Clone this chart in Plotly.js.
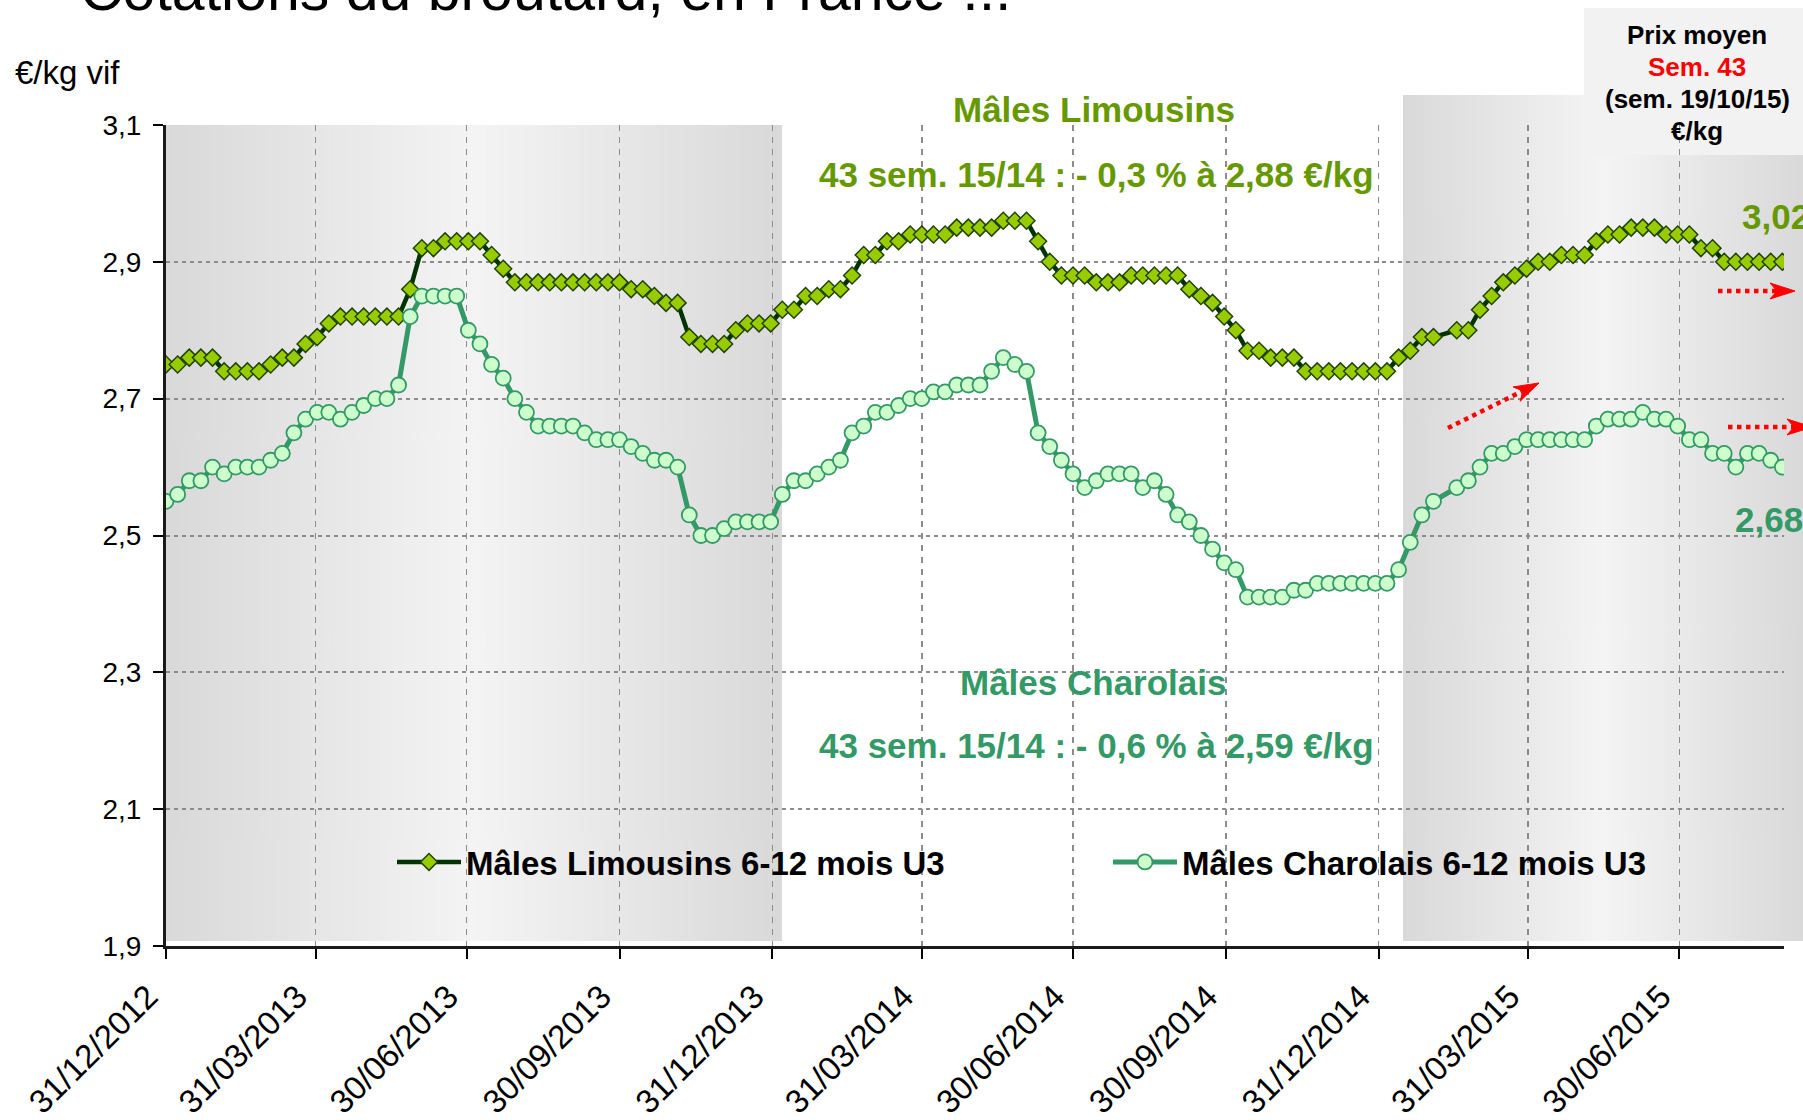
<!DOCTYPE html>
<html>
<head>
<meta charset="utf-8">
<script src="https://cdn.plot.ly/plotly-3.0.1.min.js"></script>
<style>
html,body{margin:0;padding:0;background:#ffffff;}
#chart{width:1803px;height:1120px;}
</style>
</head>
<body>
<div id="chart"></div>
<script>
// ---------------- DATA ----------------
// weekly quotations, first week = 31/12/2012 (null = week not published)
const firstWeek = '2012-12-31';

const limousins = [
  2.75,2.75,2.76,2.76,2.76,2.74,2.74,2.74,2.74,2.75,
  2.76,2.76,2.78,2.79,2.81,2.82,2.82,2.82,2.82,2.82,
  2.82,2.86,2.92,2.92,2.93,2.93,2.93,2.93,2.91,2.89,
  2.87,2.87,2.87,2.87,2.87,2.87,2.87,2.87,2.87,2.87,
  2.86,2.86,2.85,2.84,2.84,2.79,2.78,2.78,2.78,2.80,
  2.81,2.81,2.81,2.83,2.83,2.85,2.85,2.86,2.86,2.88,
  2.91,2.91,2.93,2.93,2.94,2.94,2.94,2.94,2.95,2.95,
  2.95,2.95,2.96,2.96,2.96,2.93,2.90,2.88,2.88,2.88,
  2.87,2.87,2.87,2.88,2.88,2.88,2.88,2.88,2.86,2.85,
  2.84,2.82,2.80,2.77,2.77,2.76,2.76,2.76,2.74,2.74,
  2.74,2.74,2.74,2.74,2.74,2.74,2.76,2.77,2.79,2.79,
  null,2.80,2.80,2.83,2.85,2.87,2.88,2.89,2.90,2.90,
  2.91,2.91,2.91,2.93,2.94,2.94,2.95,2.95,2.95,2.94,
  2.94,2.94,2.92,2.92,2.90,2.90,2.90,2.90,2.90,2.90
];

const charolais = [
  2.55,2.56,2.58,2.58,2.60,2.59,2.60,2.60,2.60,2.61,
  2.62,2.65,2.67,2.68,2.68,2.67,2.68,2.69,2.70,2.70,
  2.72,2.82,2.85,2.85,2.85,2.85,2.80,2.78,2.75,2.73,
  2.70,2.68,2.66,2.66,2.66,2.66,2.65,2.64,2.64,2.64,
  2.63,2.62,2.61,2.61,2.60,2.53,2.50,2.50,2.51,2.52,
  2.52,2.52,2.52,2.56,2.58,2.58,2.59,2.60,2.61,2.65,
  2.66,2.68,2.68,2.69,2.70,2.70,2.71,2.71,2.72,2.72,
  2.72,2.74,2.76,2.75,2.74,2.65,2.63,2.61,2.59,2.57,
  2.58,2.59,2.59,2.59,2.57,2.58,2.56,2.53,2.52,2.50,
  2.48,2.46,2.45,2.41,2.41,2.41,2.41,2.42,2.42,2.43,
  2.43,2.43,2.43,2.43,2.43,2.43,2.45,2.49,2.53,2.55,
  null,2.57,2.58,2.60,2.62,2.62,2.63,2.64,2.64,2.64,
  2.64,2.64,2.64,2.66,2.67,2.67,2.67,2.68,2.67,2.67,
  2.66,2.64,2.64,2.62,2.62,2.60,2.62,2.62,2.61,2.60
];

const seriesNames = ['Mâles Limousins 6-12 mois U3', 'Mâles Charolais 6-12 mois U3'];

const tickLabels = ['31/12/2012','31/03/2013','30/06/2013','30/09/2013','31/12/2013',
                    '31/03/2014','30/06/2014','30/09/2014','31/12/2014','31/03/2015','30/06/2015'];

const yTicks = [1.9, 2.1, 2.3, 2.5, 2.7, 2.9, 3.1];

// ---------------- HELPERS ----------------
function weekDates(start, n){
  const out = [];
  const d0 = new Date(start + 'T00:00:00Z').getTime();
  for (let i = 0; i < n; i++) out.push(new Date(d0 + i*7*86400000).toISOString().slice(0,10));
  return out;
}
const dates = weekDates(firstWeek, limousins.length);
const tickVals = tickLabels.map(s => { const p = s.split('/'); return p[2] + '-' + p[1] + '-' + p[0]; });

// pixel -> paper conversion (plot area 166..1784 x 125..946)
const PL = 166, PR = 1784, PT = 125, PB = 946;
const px = x => (x - PL) / (PR - PL);
const py = y => (PB - y) / (PB - PT);

function gradientURL(){
  const c = document.createElement('canvas');
  c.width = 400; c.height = 4;
  const g = c.getContext('2d');
  const lg = g.createLinearGradient(0, 0, 400, 0);
  lg.addColorStop(0, '#d9d9d9');
  lg.addColorStop(0.5, '#f4f4f4');
  lg.addColorStop(1, '#d9d9d9');
  g.fillStyle = lg; g.fillRect(0, 0, 400, 4);
  return c.toDataURL('image/png');
}
const grad = gradientURL();

function arrow(x0, y0, x1, y1){
  const dx = x1 - x0, dy = y1 - y0, len = Math.hypot(dx, dy);
  const ux = dx/len, uy = dy/len, nx = -uy, ny = ux;
  const hl = 25, hw = 8, notch = 7;
  const bx = x1 - ux*hl, by = y1 - uy*hl;
  const lineEnd = [x1 - ux*(hl-notch), y1 - uy*(hl-notch)];
  const pts = [[x1,y1],[bx+nx*hw, by+ny*hw],[x1-ux*(hl-notch), y1-uy*(hl-notch)],[bx-nx*hw, by-ny*hw]];
  const path = 'M' + pts.map(p => px(p[0]).toFixed(5) + ',' + py(p[1]).toFixed(5)).join('L') + 'Z';
  return [
    {type:'line', xref:'paper', yref:'paper', x0:px(x0), y0:py(y0), x1:px(lineEnd[0]), y1:py(lineEnd[1]),
     line:{color:'#ff0000', width:4.5, dash:'dot'}, layer:'above'},
    {type:'path', xref:'paper', yref:'paper', path:path, fillcolor:'#ff0000', line:{color:'#ff0000', width:1}, layer:'above'}
  ];
}

const FONT = 'Liberation Sans, Arial, Helvetica, sans-serif';
const GREEN_L = '#669900';
const GREEN_C = '#339966';

// ---------------- TRACES ----------------
const traces = [
  {
    type:'scatter', mode:'lines+markers', name:seriesNames[0], legend:'legend',
    x:dates, y:limousins, connectgaps:true,
    line:{color:'#003300', width:4.5},
    marker:{symbol:'diamond', size:13, color:'#99cc00', line:{color:'#1f4400', width:1.5}}
  },
  {
    type:'scatter', mode:'lines+markers', name:seriesNames[1], legend:'legend2',
    x:dates, y:charolais, connectgaps:true,
    line:{color:GREEN_C, width:5},
    marker:{symbol:'circle', size:15, color:'#ccffcc', line:{color:GREEN_C, width:1.8}}
  }
];

// ---------------- LAYOUT ----------------
const ann = (text, x, y, size, color, opts) => Object.assign({
  text:text, xref:'paper', yref:'paper', x:px(x), y:py(y), xanchor:'center', yanchor:'middle',
  showarrow:false, font:{family:FONT, size:size, color:color, weight:'bold'}
}, opts || {});

const legendBase = {
  orientation:'h', xanchor:'left', y:py(862), yanchor:'middle',
  bgcolor:'rgba(0,0,0,0)', borderwidth:0,
  font:{family:FONT, size:33, color:'#000000', weight:'bold'},
  itemwidth:64
};

const layout = {
  width:1803, height:1120,
  margin:{l:PL, r:1803-PR, t:PT, b:1120-PB, pad:0},
  paper_bgcolor:'#ffffff', plot_bgcolor:'#ffffff',
  separators:', ',
  showlegend:true,
  font:{family:FONT, color:'#000000'},
  xaxis:{
    type:'date', range:[firstWeek, '2015-09-01'],
    tickvals:tickVals, ticktext:tickLabels, tickangle:-45,
    tickfont:{family:FONT, size:33, color:'#000000'},
    ticks:'outside', ticklen:10, tickwidth:2, tickcolor:'#000000',
    ticklabelshift:-18, ticklabelstandoff:5,
    showline:true, linecolor:'#1a1a1a', linewidth:3,
    showgrid:true, gridcolor:'#8c8c8c', gridwidth:1.6, griddash:'6px,6px',
    zeroline:false
  },
  yaxis:{
    range:[1.9, 3.1], tickvals:yTicks, tickformat:'.1f',
    tickfont:{family:FONT, size:28, color:'#000000'},
    ticks:'outside', ticklen:10, tickwidth:2, tickcolor:'#000000', ticklabelstandoff:6,
    showline:true, linecolor:'#1a1a1a', linewidth:3,
    showgrid:true, gridcolor:'#8c8c8c', gridwidth:2, griddash:'4px,4px',
    zeroline:false
  },
  legend:Object.assign({}, legendBase, {x:px(392)}),
  legend2:Object.assign({}, legendBase, {x:px(1108)}),
  images:[
    {source:grad, xref:'paper', yref:'paper', x:px(166), y:py(125), sizex:px(782)-px(166), sizey:py(125)-py(941),
     xanchor:'left', yanchor:'top', sizing:'stretch', layer:'below'},
    {source:grad, xref:'paper', yref:'paper', x:px(1403), y:py(95), sizex:px(1803)-px(1403), sizey:py(95)-py(941),
     xanchor:'left', yanchor:'top', sizing:'stretch', layer:'below'}
  ],
  shapes:[
    {type:'rect', xref:'paper', yref:'paper', x0:px(782), x1:px(1403), y0:py(206), y1:py(70),
     fillcolor:'#ffffff', line:{width:0}, layer:'between'},
    {type:'rect', xref:'paper', yref:'paper', x0:px(782), x1:px(1403), y0:py(773), y1:py(648),
     fillcolor:'#ffffff', line:{width:0}, layer:'between'},
    {type:'rect', xref:'paper', yref:'paper', x0:px(1584), x1:px(1810), y0:py(155), y1:py(8),
     fillcolor:'#f2f2f2', line:{width:0}, layer:'between'}
  ].concat(arrow(1448, 428, 1539, 383), arrow(1718, 291, 1795, 291), arrow(1728, 427, 1812, 427)),
  annotations:[
    {text:'Cotations du broutard, en France ...', xref:'paper', yref:'paper', x:px(78), y:py(-10),
     xanchor:'left', yanchor:'middle', showarrow:false, font:{family:FONT, size:59, color:'#000000'}},
    {text:'€/kg vif', xref:'paper', yref:'paper', x:px(13), y:py(73), xanchor:'left', yanchor:'middle',
     showarrow:false, font:{family:FONT, size:33, color:'#000000'}},
    ann('Mâles Limousins', 1094, 110, 35, GREEN_L),
    ann('43 sem. 15/14 : - 0,3 % à 2,88 €/kg', 1096, 174, 35, GREEN_L),
    ann('Mâles Charolais', 1093, 682, 35, GREEN_C),
    ann('43 sem. 15/14 : - 0,6 % à 2,59 €/kg', 1096, 745, 35, GREEN_C),
    ann('Prix moyen', 1697, 35, 26, '#000000'),
    ann('Sem. 43', 1697, 67, 26, '#ff0000'),
    ann('(sem. 19/10/15)', 1697, 99, 26, '#000000'),
    ann('€/kg', 1697, 131, 26, '#000000'),
    ann('3,02', 1740, 216, 35, GREEN_L, {xanchor:'left'}),
    ann('2,68', 1733, 519, 35, GREEN_C, {xanchor:'left'})
  ]
};

Plotly.newPlot('chart', traces, layout, {displayModeBar:false, staticPlot:true});
</script>
</body>
</html>
